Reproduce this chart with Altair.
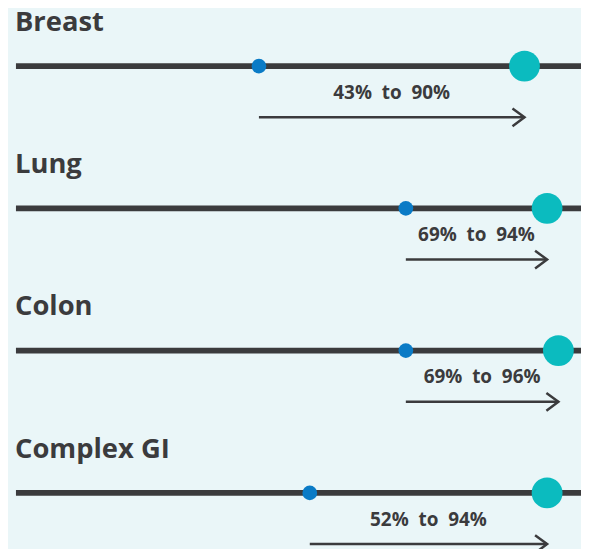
import altair as alt
import pandas as pd

categories = ["Breast", "Lung", "Colon", "Complex GI"]
start_pct = [43, 69, 69, 52]
end_pct = [90, 94, 96, 94]

NB = "\u00a0\u00a0"
rows = []
for i, (c, s, e) in enumerate(zip(categories, start_pct, end_pct)):
    rows.append({
        "row": i,
        "category": c,
        "start": s,
        "end": e,
        "mid": (s + e) / 2,
        "lo": 0,
        "hi": 100,
        "arrow_y": i + 51.5 / 143,
        "label": f"{s}%{NB}to{NB}{e}%",
    })
df = pd.DataFrame(rows)

ROW_PX = 143
H = 541
d0 = -57 / ROW_PX
d1 = d0 + H / ROW_PX

xs = alt.Scale(domain=[0, 100])
ys = alt.Scale(domain=[d0, d1], reverse=True)
x = alt.X("lo:Q", scale=xs, axis=None)
y = alt.Y("row:Q", scale=ys, axis=None)

DARK = "#3b3b3d"
BLUE = "#0a7bc6"
TEAL = "#0bbbbf"
BG = "#eaf6f8"

base = alt.Chart(df)

track = base.mark_rule(color=DARK, strokeWidth=6).encode(
    x=x, x2="hi:Q", y=y
)

arrow = base.mark_rule(color=DARK, strokeWidth=2.5).encode(
    x=alt.X("start:Q", scale=xs, axis=None),
    x2="end:Q",
    y=alt.Y("arrow_y:Q", scale=ys, axis=None),
)

head = base.mark_point(
    shape="M-1.35,-1 L0,0 L-1.35,1",
    size=320,
    filled=False,
    stroke=DARK,
    strokeWidth=2.5,
    opacity=1,
).encode(
    x=alt.X("end:Q", scale=xs, axis=None),
    y=alt.Y("arrow_y:Q", scale=ys, axis=None),
)

dot_start = base.mark_circle(color=BLUE, size=220, opacity=1).encode(
    x=alt.X("start:Q", scale=xs, axis=None),
    y=y,
)

dot_end = base.mark_circle(color=TEAL, size=960, opacity=1).encode(
    x=alt.X("end:Q", scale=xs, axis=None),
    y=y,
)

title = base.mark_text(
    align="left", baseline="alphabetic", dy=-35.5, dx=-1,
    font="Open Sans", fontWeight="bold", fontSize=27.5, color=DARK,
).encode(x=x, y=y, text="category:N")

label = base.mark_text(
    align="center", baseline="alphabetic", dy=33,
    font="Open Sans", fontWeight="bold", fontSize=19, color=DARK,
).encode(
    x=alt.X("mid:Q", scale=xs, axis=None),
    y=y,
    text="label:N",
)

chart = alt.layer(track, arrow, head, dot_start, dot_end, title, label).properties(
    width=568,
    height=H,
    background=BG,
    padding={"left": 8, "top": 0, "right": 0, "bottom": 0},
    autosize=alt.AutoSizeParams(type="none"),
).configure_view(stroke=None)

chart.save("out.html", embed_options={"renderer": "svg", "actions": False})
